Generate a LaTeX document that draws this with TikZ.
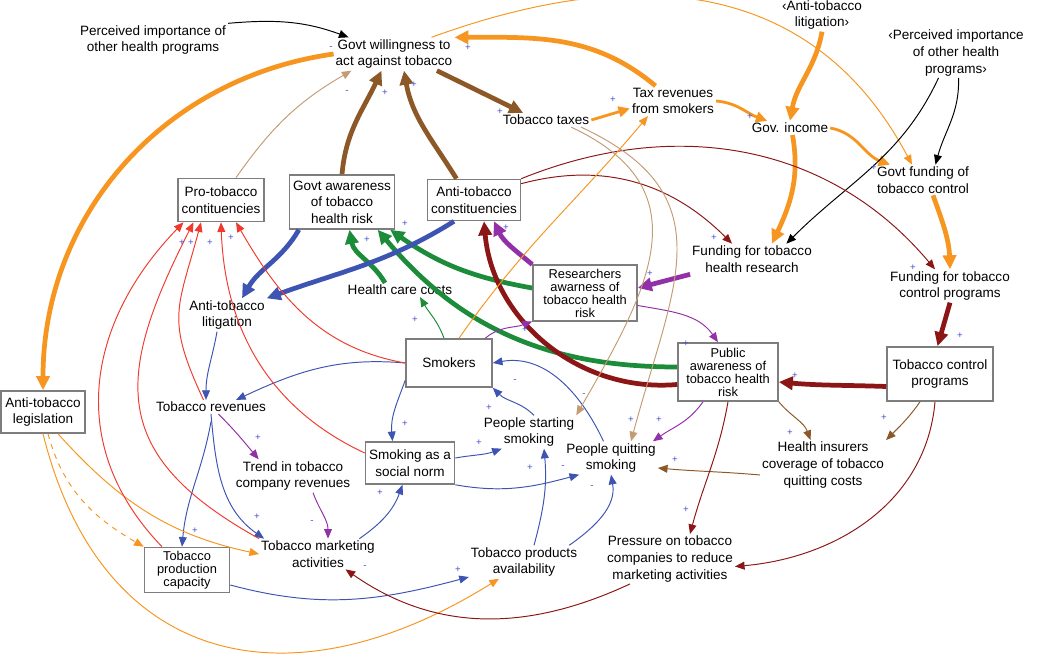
\documentclass[tikz,border=0pt]{standalone}
\usepackage{fontspec}
\setmainfont{Liberation Sans}
\usetikzlibrary{arrows.meta}
\usepackage{xcolor}
\definecolor{cldOrange}{RGB}{246,150,32}
\definecolor{cldBrown}{RGB}{140,88,40}
\definecolor{cldTan}{RGB}{196,156,116}
\definecolor{cldGreen}{RGB}{28,140,58}
\definecolor{cldBlue}{RGB}{62,84,178}
\definecolor{cldDarkRed}{RGB}{140,22,22}
\definecolor{cldPurple}{RGB}{146,48,168}
\definecolor{cldRed}{RGB}{240,58,46}
\definecolor{boxGray}{RGB}{125,125,125}
\definecolor{signBlue}{RGB}{70,80,205}
\newcommand{\cldfont}{\fontsize{7.7}{9.4}\selectfont}
\newcommand{\cldtight}{\fontsize{7.3}{7.4}\selectfont}

\begin{document}
\begin{tikzpicture}[x=0.02cm,y=-0.02cm,
    lbl/.style={align=center,inner sep=1pt,font=\cldfont},
    box/.style={lbl,draw=boxGray,line width=0.9pt,inner sep=2pt},
    tight/.style={font=\cldtight},
    sgn/.style={font=\fontsize{5.5}{5.5}\selectfont,text=signBlue,inner sep=0pt},
    thinA/.style={line width=0.55pt,-{Triangle[length=5.5pt,width=4.5pt]}},
    medA/.style={line width=1.6pt,-{Triangle[length=6.5pt,width=6pt]}},
    thickA/.style={line width=2.7pt,-{Triangle[length=8pt,width=7.5pt]}}]
        \useasboundingbox (0,0) rectangle (1050,661);
        % variables
        \node[lbl] (percA) at (153,40) {Perceived importance of\\other health programs};
        \node[lbl] (willing) at (394,54) {Govt willingness to\\act against tobacco};
        \node[box,minimum width=1.68cm,minimum height=0.86cm] (proTob) at (221,200) {Pro-tobacco\\contituencies};
        \node[box,minimum width=2.06cm,minimum height=1.08cm] (govAware) at (342,202) {Govt awareness\\of tobacco\\health risk};
        \node[box,minimum width=1.8cm,minimum height=0.82cm] (antiConst) at (474,200) {Anti-tobacco\\constituencies};
        \node[lbl] (litig) at (227,315) {Anti-tobacco\\litigation};
        \node[lbl] (healthCost) at (400,290) {Health care costs};
        \node[lbl] (litigShadow) at (822,15) {‹Anti-tobacco\\litigation›};
        \node[lbl] (percB) at (956,53) {‹Perceived importance\\of other health\\programs›};
        \node[lbl] (taxRev) at (673,101) {Tax revenues\\from smokers};
        \node[lbl] (taxes) at (546,120) {Tobacco taxes};
        \node[lbl] (govIncome) at (790,128) {Gov. income};
        \node[lbl] (govFund) at (923,180) {Govt funding of\\tobacco control};
        \node[lbl] (fundResearch) at (752,259) {Funding for tobacco\\health research};
        \node[lbl] (fundControl) at (950,286) {Funding for tobacco\\control programs};
        \node[box,tight,minimum width=2.08cm,minimum height=1.02cm] (researchers) at (585,293) {Researchers\\awarness of\\tobacco health\\risk};
        \node[box,minimum width=1.68cm,minimum height=0.84cm] (legislation) at (43,412) {Anti-tobacco\\legislation};
        \node[lbl] (revenues) at (211,407) {Tobacco revenues};
        \node[box,minimum width=1.72cm,minimum height=0.96cm] (smokers) at (449,363) {Smokers};
        \node[lbl] (trend) at (293,476) {Trend in tobacco\\company revenues};
        \node[box,minimum width=1.7cm,minimum height=0.84cm] (socialNorm) at (410,463) {Smoking as a\\social norm};
        \node[lbl] (marketing) at (318,554) {Tobacco marketing\\activities};
        \node[box,tight,minimum width=1.7cm,minimum height=0.9cm] (prodCap) at (187,570) {Tobacco\\production\\capacity};
        \node[lbl] (starting) at (529,432) {People starting\\smoking};
        \node[lbl] (quitting) at (611,458) {People quitting\\smoking};
        \node[lbl] (avail) at (524,562) {Tobacco products\\availability};
        \node[box,tight,minimum width=2.0cm,minimum height=1.16cm] (publicAware) at (728,372) {Public\\awareness of\\tobacco health\\risk};
        \node[box,minimum width=2.12cm,minimum height=1.08cm] (controlProg) at (940,374) {Tobacco control\\programs};
        \node[lbl] (insurers) at (823,465) {Health insurers\\coverage of tobacco\\quitting costs};
        \node[lbl] (pressure) at (670,559) {Pressure on tobacco\\companies to reduce\\marketing activities};

        % government willingness
        \draw[thinA,black] (percA.north east) to[out=5,in=160] ([xshift=0.3cm]willing.north west);
        \draw[thickA,cldOrange] (willing.west) to[out=188,in=90] (legislation.north);
        \draw[thickA,cldOrange] ([xshift=-0.35cm]taxRev.north) to[out=140,in=0] (willing.north east);
        \draw[thinA,cldOrange] ([xshift=0.75cm]willing.north) to[out=20,in=118,looseness=1.1] ([xshift=-0.22cm]govFund.north);
        \draw[thickA,cldBrown] ([xshift=-0.35cm]willing.south east) -- ([xshift=0.45cm]taxes.north west);
        \draw[thickA,cldBrown] (govAware.north) to[out=85,in=245] ([xshift=-0.25cm]willing.south);
        \draw[thickA,cldBrown] ([xshift=-0.35cm]antiConst.north) to[out=122,in=-80] ([xshift=0.2cm]willing.south);
        \draw[thinA,cldTan] ([xshift=0.3cm]proTob.north) to[out=55,in=210] ([xshift=-0.85cm]willing.south);

        % taxes and funding
        \draw[medA,cldOrange] (taxes.east) -- ([yshift=-0.15cm]taxRev.west);
        \draw[medA,cldOrange] (taxRev.east) to[out=-5,in=160] ([xshift=0.35cm]govIncome.north west);
        \draw[thickA,cldOrange] (litigShadow.south) to[out=-100,in=80] (govIncome.north);
        \draw[thickA,cldOrange] ([xshift=0.05cm]govIncome.south) to[out=-80,in=65] ([xshift=0.4cm]fundResearch.north);
        \draw[medA,cldOrange] (govIncome.east) to[out=-10,in=160] ([xshift=0.3cm]govFund.north west);
        \draw[thinA,black] ([xshift=0.05cm]percB.south) to[out=-88,in=75] ([xshift=0.25cm]govFund.north);
        \draw[thinA,black] ([xshift=-0.35cm]percB.south) to[out=-115,in=45] ([xshift=-0.55cm]fundResearch.north east);
        \draw[thickA,cldOrange] ([xshift=0.2cm]govFund.south) to[out=-70,in=92] (fundControl.north);
        \draw[thickA,cldDarkRed] (fundControl.south) -- ([xshift=-0.05cm]controlProg.north);
        \draw[thickA,cldDarkRed] ([yshift=-0.25cm]controlProg.west) to[out=178,in=-5] ([yshift=-0.2cm]publicAware.east);
        \draw[thinA,cldDarkRed] ([yshift=-0.1cm]antiConst.north east) to[out=15,in=135] ([xshift=-0.4cm]fundResearch.north);
        \draw[thinA,cldDarkRed] (antiConst.north east) to[out=22,in=130] ([xshift=-0.3cm]fundControl.north);

        % awareness of health risk
        \draw[thickA,cldPurple] (fundResearch.south west) -- ([yshift=0.1cm]researchers.east);
        \draw[thickA,cldPurple] (researchers.north west) to[out=140,in=-65] ([xshift=0.4cm]antiConst.south);
        \draw[thickA,cldGreen] ([yshift=0.1cm]researchers.west) to[out=170,in=-35] ([xshift=-0.1cm]govAware.south east);
        \draw[thickA,cldGreen] ([yshift=0.1cm]publicAware.west) to[out=180,in=-50] ([xshift=-0.35cm]govAware.south east);
        \draw[thickA,cldGreen] ([xshift=-0.3cm]healthCost.north) to[out=120,in=-80] ([xshift=0.15cm]govAware.south);
        \draw[thinA,cldGreen] ([xshift=-0.1cm]smokers.north) to[out=110,in=-60] ([xshift=0.4cm]healthCost.south);
        \draw[thickA,cldDarkRed] ([yshift=-0.25cm]publicAware.west) to[out=185,in=-85] ([xshift=0.2cm]antiConst.south);
        \draw[thinA,cldPurple] ([yshift=-0.25cm]researchers.east) to[out=-10,in=125] ([xshift=-0.2cm]publicAware.north);
        \draw[thinA,cldPurple] ([xshift=-0.15cm]smokers.north east) to[out=40,in=200] (researchers.south west);

        % litigation and revenues
        \draw[thickA,cldBlue] ([xshift=0.2cm]govAware.south west) to[out=-120,in=60] ([xshift=0.3cm]litig.north);
        \draw[thickA,cldBlue] ([xshift=-0.4cm]antiConst.south) to[out=-148,in=20] (litig.north east);
        \draw[thinA,cldBlue] ([xshift=-0.2cm]litig.south) to[out=-100,in=90] ([xshift=-0.1cm]revenues.north);
        \draw[thinA,cldBlue] (smokers.west) to[out=175,in=25] ([xshift=0.5cm]revenues.north);
        \draw[thinA,cldBlue] ([yshift=-0.15cm]revenues.south) to[out=-100,in=85] ([xshift=-0.1cm]prodCap.north);
        \draw[thinA,cldBlue] (revenues.south) to[out=-85,in=145] ([xshift=0.1cm]marketing.north west);
        \draw[thinA,cldPurple] ([xshift=0.15cm]revenues.south) to[out=-45,in=130] ([xshift=0.5cm]trend.north west);
        \draw[thinA,cldPurple] ([xshift=0.4cm]trend.south) to[out=-70,in=90] ([xshift=0.2cm]marketing.north);

        % smokers
        \draw[thinA,cldBlue] ([yshift=0.15cm]smokers.south west) to[out=-110,in=95] ([xshift=-0.35cm]socialNorm.north);
        \draw[thinA,cldBlue] ([yshift=0.1cm]socialNorm.east) to[out=10,in=200] ([xshift=0.4cm]starting.south west);
        \draw[thinA,cldBlue] (socialNorm.south east) to[out=-10,in=195] ([xshift=0.3cm]quitting.south west);
        \draw[thinA,cldBlue] ([xshift=0.1cm]starting.north) to[out=135,in=-45] (smokers.south east);
        \draw[thinA,cldBlue] ([xshift=-0.15cm]quitting.north) to[out=115,in=10] (smokers.east);
        \draw[thinA,cldBlue] ([xshift=0.2cm]avail.north) to[out=75,in=-85] ([xshift=0.3cm]starting.south);
        \draw[thinA,cldBlue] ([xshift=-0.2cm]avail.north east) to[out=35,in=-80] (quitting.south);
        \draw[thinA,cldBlue] ([xshift=-0.35cm]marketing.north east) to[out=35,in=-110] ([xshift=-0.15cm]socialNorm.south);
        \draw[thinA,cldBlue] ([yshift=-0.3cm]prodCap.east) to[out=-15,in=195] ([yshift=-0.3cm]avail.west);
        \draw[thinA,cldOrange] ([xshift=0.2cm]smokers.north) to[out=55,in=230] ([xshift=-0.5cm]taxRev.south);
        \draw[thinA,cldTan] ([xshift=0.5cm]taxes.south) to[out=-25,in=60,looseness=1.3] (starting.north east);
        \draw[thinA,cldTan] ([xshift=0.7cm]taxes.south) to[out=-25,in=75,looseness=1.3] ([xshift=0.4cm]quitting.north);

        % legislation
        \draw[thinA,cldOrange] ([xshift=0.3cm]legislation.south) to[out=-48,in=168] (marketing.west);
        \draw[thinA,cldOrange,dashed] ([xshift=0.1cm]legislation.south) to[out=-75,in=150] (prodCap.north west);
        \draw[thinA,cldOrange] (legislation.south) to[out=-76,in=212,looseness=1.3] ([xshift=-0.5cm]avail.south);

        % control programs
        \draw[thinA,cldBrown] (publicAware.south east) to[out=-50,in=110] ([xshift=-0.25cm]insurers.north);
        \draw[thinA,cldBrown] ([xshift=-0.4cm]controlProg.south) to[out=-125,in=45] (insurers.north east);
        \draw[thinA,cldBrown] ([yshift=-0.2cm]insurers.west) to[out=175,in=-5] ([yshift=-0.2cm]quitting.east);
        \draw[thinA,cldPurple] ([xshift=-0.5cm]publicAware.south) to[out=-125,in=35] ([xshift=-0.1cm]quitting.north east);
        \draw[thinA,cldDarkRed] (publicAware.south) to[out=-100,in=75] ([xshift=0.4cm]pressure.north);
        \draw[thinA,cldDarkRed] ([xshift=-0.1cm]controlProg.south) to[out=-95,in=5] ([yshift=-0.15cm]pressure.east);
        \draw[thinA,cldDarkRed] ([xshift=-0.8cm]pressure.south) to[out=-155,in=-35] ([xshift=0.55cm]marketing.south);

        % pro-tobacco constituencies
        \draw[thinA,cldRed] ([xshift=-0.5cm]prodCap.north) to[out=134,in=226,looseness=1.1] ([xshift=-0.75cm]proTob.south);
        \draw[thinA,cldRed] (marketing.north west) to[out=151,in=243,looseness=1.37] ([xshift=-0.55cm]proTob.south);
        \draw[thinA,cldRed] ([xshift=-0.15cm]revenues.north) to[out=115,in=255,looseness=1.3] ([xshift=-0.4cm]proTob.south);
        \draw[thinA,cldRed] ([yshift=0.2cm]socialNorm.west) to[out=155,in=-88] (proTob.south);
        \draw[thinA,cldRed] (smokers.west) to[out=170,in=-60] ([xshift=0.3cm]proTob.south);

        % polarities
        \foreach \sx/\sy/\sv [count=\i] in {331/48/-, 468/48/+, 347/92/-, 385/93/+, 414/85/+,
            613/100/+, 500/112/+, 750/117/+, 874/168/+, 714/238/+, 913/268/+, 650/274/+,
            960/336/+, 795/376/+, 182/243/+, 191/243/+, 210/243/+, 231/238/+, 405/224/+,
            367/240/+, 506/228/+, 415/320/+, 525/330/+, 405/424/+, 479/443/+, 489/408/+,
            515/381/-, 584/395/-, 530/468/+, 563/467/-, 592/487/-, 631/420/+, 659/420/+,
            675/460/+, 686/510/+, 790/433/+, 884/418/+, 258/438/+, 257/517/+, 312/522/-,
            195/531/+, 380/493/+, 458/570/+, 365/567/-, 686/344/+}
            \node[sgn] (sg\i) at (\sx,\sy) {\sv};
    \end{tikzpicture}
\end{document}
